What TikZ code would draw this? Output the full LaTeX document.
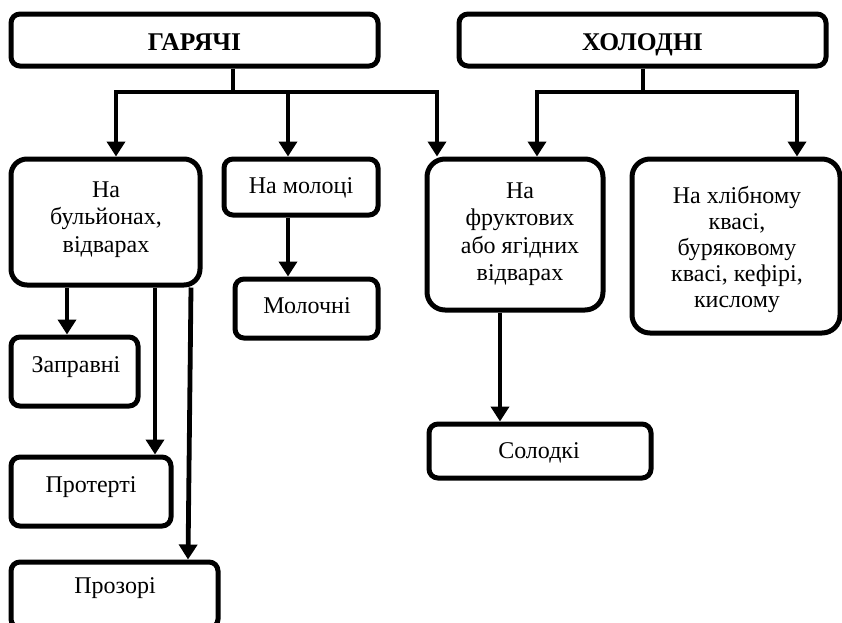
\documentclass[tikz,border=0pt]{standalone}
\usepackage{fontspec}
\setmainfont{Liberation Serif}
\usetikzlibrary{arrows.meta}
\newcommand\mlines[1]{\begin{tabular}[t]{@{}c@{}}#1\end{tabular}}
\begin{document}
\begin{tikzpicture}[x=1pt,y=-1pt,
  box/.style={draw=black, line width=5pt, fill=white, rounded corners=#1, inner sep=0pt},
  box/.default=9pt,
  txt/.style={anchor=base, inner sep=0pt, font=\fontsize{24}{27.5}\selectfont},
  ttl/.style={anchor=base, inner sep=0pt, font=\fontsize{25.5}{27}\selectfont\bfseries},
  conn/.style={draw=black, line width=4.8pt},
  bar/.style={conn, line cap=rect},
  arr/.style={conn, -{Triangle[width=18pt,length=15pt]}}]
\useasboundingbox (0,0) rectangle (842,622);
% top boxes
\node[box, minimum width=367pt, minimum height=52pt] (g) at (194.5,40) {};
\node[ttl] (gt) at (194.5,50) {ГАРЯЧІ};
\node[box, minimum width=367pt, minimum height=52pt] (h) at (642.5,40) {};
\node[ttl] (ht) at (642.5,50) {ХОЛОДНІ};
% second row
\node[box=16pt, minimum width=189pt, minimum height=126pt] (bul) at (105.5,222) {};
\node[txt] (bult) at (106,197) {\mlines{На\\бульйонах,\\відварах}};
\node[box, minimum width=154pt, minimum height=56pt] (mol) at (301,187) {};
\node[txt] (molt) at (301,193) {На молоці};
\node[box, minimum width=143pt, minimum height=59pt] (molo) at (306.5,308.5) {};
\node[txt] (molot) at (307,313) {Молочні};
\node[box=18pt, minimum width=176pt, minimum height=151pt] (fr) at (515,234.5) {};
\node[txt] (frt) at (520,198) {\mlines{На\\фруктових\\або ягідних\\відварах}};
\node[box=18pt, minimum width=208pt, minimum height=174pt] (hl) at (736,246) {};
\node[txt, font=\fontsize{24}{26}\selectfont] (hlt) at (737,203) {\mlines{На хлібному\\квасі,\\буряковому\\квасі, кефірі,\\кислому}};
% left column
\node[box, minimum width=127pt, minimum height=69pt] (zap) at (74.5,371.5) {};
\node[txt] (zapt) at (76,372) {Заправні};
\node[box, minimum width=160pt, minimum height=69pt] (prot) at (91,491.5) {};
\node[txt] (prott) at (91,492) {Протерті};
\node[box, minimum width=207pt, minimum height=66pt] (proz) at (114.5,595) {};
\node[txt] (prozt) at (115,593) {Прозорі};
% sweet
\node[box, minimum width=222pt, minimum height=54pt] (sol) at (540,451) {};
\node[txt] (solt) at (539,458) {Солодкі};
% connectors from ГАРЯЧІ
\coordinate (gj) at (233,92);
\coordinate (gl) at (116,92);
\coordinate (gm) at (288,92);
\coordinate (gr) at (437,92);
\draw[conn] (g.south -| gj) -- (gj);
\draw[bar] (gl) -- (gr);
\draw[arr] (gl) -- (gl |- bul.north);
\draw[arr] (gm) -- (gm |- mol.north);
\draw[arr] (gr) -- (gr |- fr.north);
% connectors from ХОЛОДНІ
\coordinate (hj) at (643,92);
\coordinate (hl1) at (537,92);
\coordinate (hr1) at (797,92);
\draw[conn] (h.south -| hj) -- (hj);
\draw[bar] (hl1) -- (hr1);
\draw[arr] (hl1) -- (hl1 |- fr.north);
\draw[arr] (hr1) -- (hr1 |- hl.north);
% others
\draw[arr] (mol.south -| gm) -- (gm |- molo.north);
\coordinate (b1) at (67,0);
\coordinate (b2) at (155,0);
\draw[arr] (bul.south -| b1) -- (b1 |- zap.north);
\draw[arr] (bul.south -| b2) -- (b2 |- prot.north);
\coordinate (b3) at (191,0);
\coordinate (b3e) at (188,0);
\draw[arr] (bul.south -| b3) -- (b3e |- proz.north);
\coordinate (f1) at (500,0);
\draw[arr] (fr.south -| f1) -- (f1 |- sol.north);
\end{tikzpicture}
\end{document}
